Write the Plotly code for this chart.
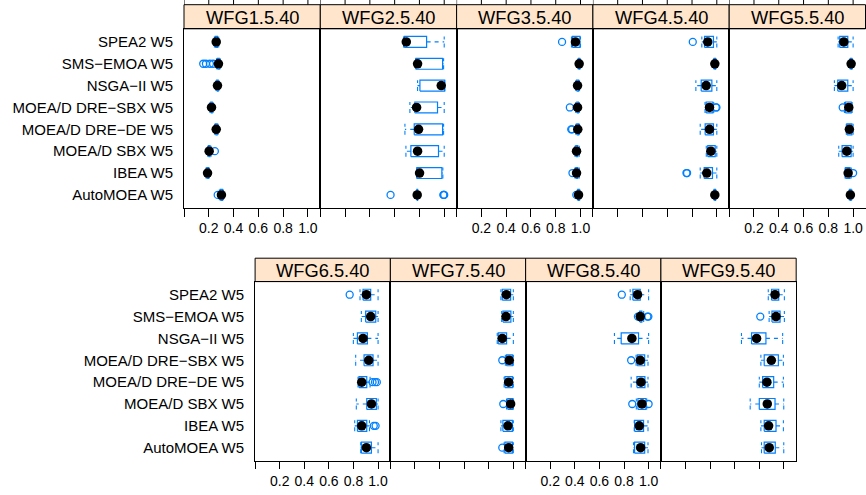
import plotly.graph_objects as go

# ---------------- data ----------------
algorithms = ["SPEA2 W5", "SMS\u2212EMOA W5", "NSGA\u2212II W5", "MOEA/D DRE\u2212SBX W5",
              "MOEA/D DRE\u2212DE W5", "MOEA/D SBX W5", "IBEA W5", "AutoMOEA W5"]
problems = ["WFG1.5.40", "WFG2.5.40", "WFG3.5.40", "WFG4.5.40", "WFG5.5.40",
            "WFG6.5.40", "WFG7.5.40", "WFG8.5.40", "WFG9.5.40"]
tick_values = [0.0, 0.2, 0.4, 0.6, 0.8, 1.0]
tick_labels = ["", "0.2", "0.4", "0.6", "0.8", "1.0"]

# [lower whisker, Q1, median, Q3, upper whisker] per algorithm (same order as algorithms)
wfg1_stats = [[0.245, 0.252, 0.260, 0.270, 0.280], [0.262, 0.270, 0.278, 0.285, 0.292],
              [0.258, 0.264, 0.270, 0.276, 0.282], [0.210, 0.216, 0.222, 0.228, 0.234],
              [0.248, 0.254, 0.260, 0.268, 0.275], [0.192, 0.198, 0.203, 0.210, 0.218],
              [0.178, 0.184, 0.190, 0.197, 0.204], [0.285, 0.293, 0.302, 0.310, 0.318]]
wfg1_outliers = [[], [0.155, 0.177, 0.209, 0.235], [], [], [], [0.249], [], [0.272]]

wfg2_stats = [[0.672, 0.678, 0.694, 0.858, 1.000], [0.770, 0.772, 0.785, 0.987, 0.995],
              [0.785, 0.804, 0.976, 1.004, 1.004], [0.723, 0.763, 0.777, 0.946, 1.000],
              [0.683, 0.758, 0.793, 0.987, 0.995], [0.691, 0.731, 0.785, 0.954, 1.000],
              [0.778, 0.780, 0.801, 0.981, 0.989], [0.778, 0.780, 0.782, 0.785, 0.787]]
wfg2_outliers = [[], [], [], [], [], [], [], [0.567, 0.993, 0.997, 1.000]]

wfg3_stats = [[0.927, 0.935, 0.959, 0.995, 1.000], [0.980, 0.984, 0.989, 0.993, 0.997],
              [0.962, 0.968, 0.976, 0.985, 0.992], [0.962, 0.970, 0.976, 0.983, 0.990],
              [0.962, 0.970, 0.978, 0.985, 0.992], [0.955, 0.962, 0.968, 0.978, 0.990],
              [0.955, 0.962, 0.968, 0.978, 0.990], [0.975, 0.978, 0.984, 0.990, 0.995]]
wfg3_outliers = [[0.851], [], [], [0.914], [0.925, 0.932], [], [0.935], [0.966]]

wfg4_stats = [[0.879, 0.901, 0.927, 0.973, 1.000], [0.975, 0.979, 0.984, 0.989, 0.993],
              [0.831, 0.874, 0.914, 0.960, 1.000], [0.905, 0.914, 0.941, 0.968, 0.975],
              [0.866, 0.906, 0.941, 0.973, 1.000], [0.915, 0.927, 0.952, 0.987, 1.000],
              [0.866, 0.898, 0.919, 0.965, 1.000], [0.975, 0.979, 0.984, 0.989, 0.993]]
wfg4_outliers = [[0.806], [], [], [0.992, 0.997], [], [], [0.755, 0.760], []]

wfg5_stats = [[0.879, 0.892, 0.925, 0.957, 1.000], [0.975, 0.979, 0.984, 0.989, 0.993],
              [0.849, 0.876, 0.908, 0.957, 1.000], [0.930, 0.938, 0.965, 0.985, 0.992],
              [0.945, 0.950, 0.970, 0.990, 1.000], [0.884, 0.911, 0.949, 0.984, 1.000],
              [0.935, 0.940, 0.960, 0.975, 0.985], [0.968, 0.972, 0.978, 0.984, 0.990]]
wfg5_outliers = [[], [], [], [0.916], [], [], [1.000], []]

wfg6_stats = [[0.853, 0.878, 0.905, 0.940, 1.000], [0.864, 0.899, 0.940, 0.981, 1.000],
              [0.799, 0.832, 0.878, 0.913, 1.000], [0.818, 0.886, 0.924, 0.959, 1.000],
              [0.837, 0.845, 0.867, 0.908, 0.935], [0.823, 0.908, 0.946, 0.986, 1.000],
              [0.810, 0.832, 0.867, 0.908, 0.930], [0.859, 0.864, 0.905, 0.946, 1.000]]
wfg6_outliers = [[0.769], [], [], [], [0.955, 0.975, 0.990], [], [0.965, 0.980], []]

wfg7_stats = [[0.899, 0.910, 0.943, 0.978, 1.000], [0.905, 0.915, 0.940, 0.980, 1.000],
              [0.869, 0.877, 0.910, 0.945, 1.000], [0.935, 0.945, 0.967, 0.992, 1.000],
              [0.925, 0.932, 0.962, 0.992, 1.000], [0.945, 0.955, 0.978, 0.995, 1.000],
              [0.899, 0.915, 0.956, 0.992, 1.000], [0.925, 0.932, 0.962, 0.992, 1.000]]
wfg7_outliers = [[], [], [], [0.910], [], [0.918], [], [0.910]]

wfg8_stats = [[0.850, 0.872, 0.910, 0.932, 1.000], [0.925, 0.928, 0.932, 0.945, 0.960],
              [0.722, 0.777, 0.864, 0.918, 1.000], [0.898, 0.908, 0.932, 0.968, 0.995],
              [0.858, 0.905, 0.938, 0.970, 0.995], [0.900, 0.913, 0.946, 0.978, 0.985],
              [0.883, 0.886, 0.924, 0.959, 0.995], [0.877, 0.886, 0.935, 0.968, 0.995]]
wfg8_outliers = [[0.782], [0.913, 0.990, 0.998], [], [0.858], [], [0.867, 1.000], [], []]

wfg9_stats = [[0.873, 0.900, 0.928, 0.958, 1.004], [0.880, 0.903, 0.936, 0.969, 1.004],
              [0.655, 0.737, 0.778, 0.854, 0.990], [0.813, 0.840, 0.898, 0.955, 0.996],
              [0.800, 0.827, 0.862, 0.917, 0.996], [0.726, 0.800, 0.865, 0.928, 0.999],
              [0.813, 0.840, 0.876, 0.936, 0.996], [0.818, 0.840, 0.881, 0.930, 0.999]]
wfg9_outliers = [[], [0.808], [], [], [], [], [], []]

all_stats = [wfg1_stats, wfg2_stats, wfg3_stats, wfg4_stats, wfg5_stats,
             wfg6_stats, wfg7_stats, wfg8_stats, wfg9_stats]
all_outliers = [wfg1_outliers, wfg2_outliers, wfg3_outliers, wfg4_outliers, wfg5_outliers,
                wfg6_outliers, wfg7_outliers, wfg8_outliers, wfg9_outliers]

# ---------------- geometry (pixels) ----------------
W, H = 866, 495
rows = [
    dict(x0=184.0, pw=136.3, strip=(4.7, 28.8), panel=(28.8, 208.0), n=5),
    dict(x0=255.1, pw=135.27, strip=(258.2, 281.6), panel=(281.6, 460.8), n=4),
]
BLUE = "#0080FF"
STRIP = "#FFE5CC"
FONT = "Liberation Sans, Arial, sans-serif"
HALF = 0.25  # half box height in category units
n_alg = len(algorithms)


def px_x(v):
    return v / W


def px_y(v):
    return 1 - v / H


fig = go.Figure()
shapes = []
annotations = []
layout_axes = {}

k = 0
for r_i, row in enumerate(rows):
    for c in range(row["n"]):
        suffix = "" if k == 0 else str(k + 1)
        xr, yr = "x" + suffix, "y" + suffix
        xl = row["x0"] + c * row["pw"]
        xrgt = xl + row["pw"]
        ptop, pbot = row["panel"]
        stop, sbot = row["strip"]
        show_lab = (c % 2 == 0)
        layout_axes["xaxis" + suffix] = dict(
            domain=[px_x(xl), px_x(xrgt)], range=[0, 1.1], anchor=yr,
            tickvals=tick_values,
            ticktext=tick_labels if show_lab else [""] * len(tick_values),
            ticks="outside", ticklen=7.5, tickwidth=1, tickcolor="black",
            showline=True, linecolor="black", linewidth=1, mirror=True,
            showgrid=False, zeroline=False,
            tickfont=dict(family=FONT, size=14, color="black"),
        )
        layout_axes["yaxis" + suffix] = dict(
            domain=[px_y(pbot), px_y(ptop)], range=[0.4, n_alg + 0.6], anchor=xr,
            tickvals=[n_alg - i for i in range(n_alg)],
            ticktext=algorithms if c == 0 else [""] * n_alg,
            showticklabels=(c == 0), ticks="", ticklabelstandoff=7,
            showline=True, linecolor="black", linewidth=1, mirror=True,
            showgrid=False, zeroline=False,
            tickfont=dict(family=FONT, size=15, color="black"),
        )
        # strip
        shapes.append(dict(type="rect", xref="paper", yref="paper",
                           x0=px_x(xl), x1=px_x(xrgt), y0=px_y(sbot), y1=px_y(stop),
                           fillcolor=STRIP, line=dict(color="black", width=1), layer="below"))
        annotations.append(dict(text=problems[k], xref="paper", yref="paper",
                                x=px_x((xl + xrgt) / 2), y=px_y((stop + sbot) / 2 + 0.8),
                                xanchor="center", yanchor="middle", showarrow=False,
                                font=dict(family=FONT, size=18.3, color="black")))
        # top ticks above the strips (top row)
        if r_i == 0:
            for tv in tick_values:
                shapes.append(dict(type="line", xref=xr, yref="paper", x0=tv, x1=tv,
                                   y0=px_y(stop), y1=px_y(stop - 8),
                                   line=dict(color="black", width=1)))

        stats = all_stats[k]
        outs = all_outliers[k]
        bx, by, wx, wy, ox, oy, mx, my = [], [], [], [], [], [], [], []
        for i in range(n_alg):
            lo, q1, med, q3, hi = stats[i]
            yc = n_alg - i
            bx += [q1, q3, q3, q1, q1, None]
            by += [yc - HALF, yc - HALF, yc + HALF, yc + HALF, yc - HALF, None]
            wx += [q1, lo, None, q3, hi, None, lo, lo, None, hi, hi, None]
            wy += [yc, yc, None, yc, yc, None, yc - HALF, yc + HALF, None, yc - HALF, yc + HALF, None]
            for o in outs[i]:
                ox.append(o)
                oy.append(yc)
            mx.append(med)
            my.append(yc)
        fig.add_trace(go.Scatter(x=wx, y=wy, mode="lines", xaxis=xr, yaxis=yr,
                                 line=dict(color=BLUE, width=1.1, dash="4px,4px"),
                                 hoverinfo="skip", showlegend=False))
        fig.add_trace(go.Scatter(x=bx, y=by, mode="lines", xaxis=xr, yaxis=yr,
                                 line=dict(color=BLUE, width=1.2),
                                 hoverinfo="skip", showlegend=False))
        fig.add_trace(go.Scatter(x=ox, y=oy, mode="markers", xaxis=xr, yaxis=yr,
                                 marker=dict(symbol="circle-open", size=7, color=BLUE,
                                             line=dict(width=1.3, color=BLUE)),
                                 hoverinfo="skip", showlegend=False))
        fig.add_trace(go.Scatter(x=mx, y=my, mode="markers", xaxis=xr, yaxis=yr,
                                 marker=dict(symbol="circle", size=9.5, color="black"),
                                 hoverinfo="skip", showlegend=False))
        k += 1

fig.update_layout(
    width=W, height=H, margin=dict(l=0, r=0, t=0, b=0),
    paper_bgcolor="white", plot_bgcolor="white",
    shapes=shapes, annotations=annotations, showlegend=False,
    font=dict(family=FONT, color="black"),
    **layout_axes,
)

fig.write_html("out.html", config={"displayModeBar": False},
               post_script="document.body.style.margin='0px';")
